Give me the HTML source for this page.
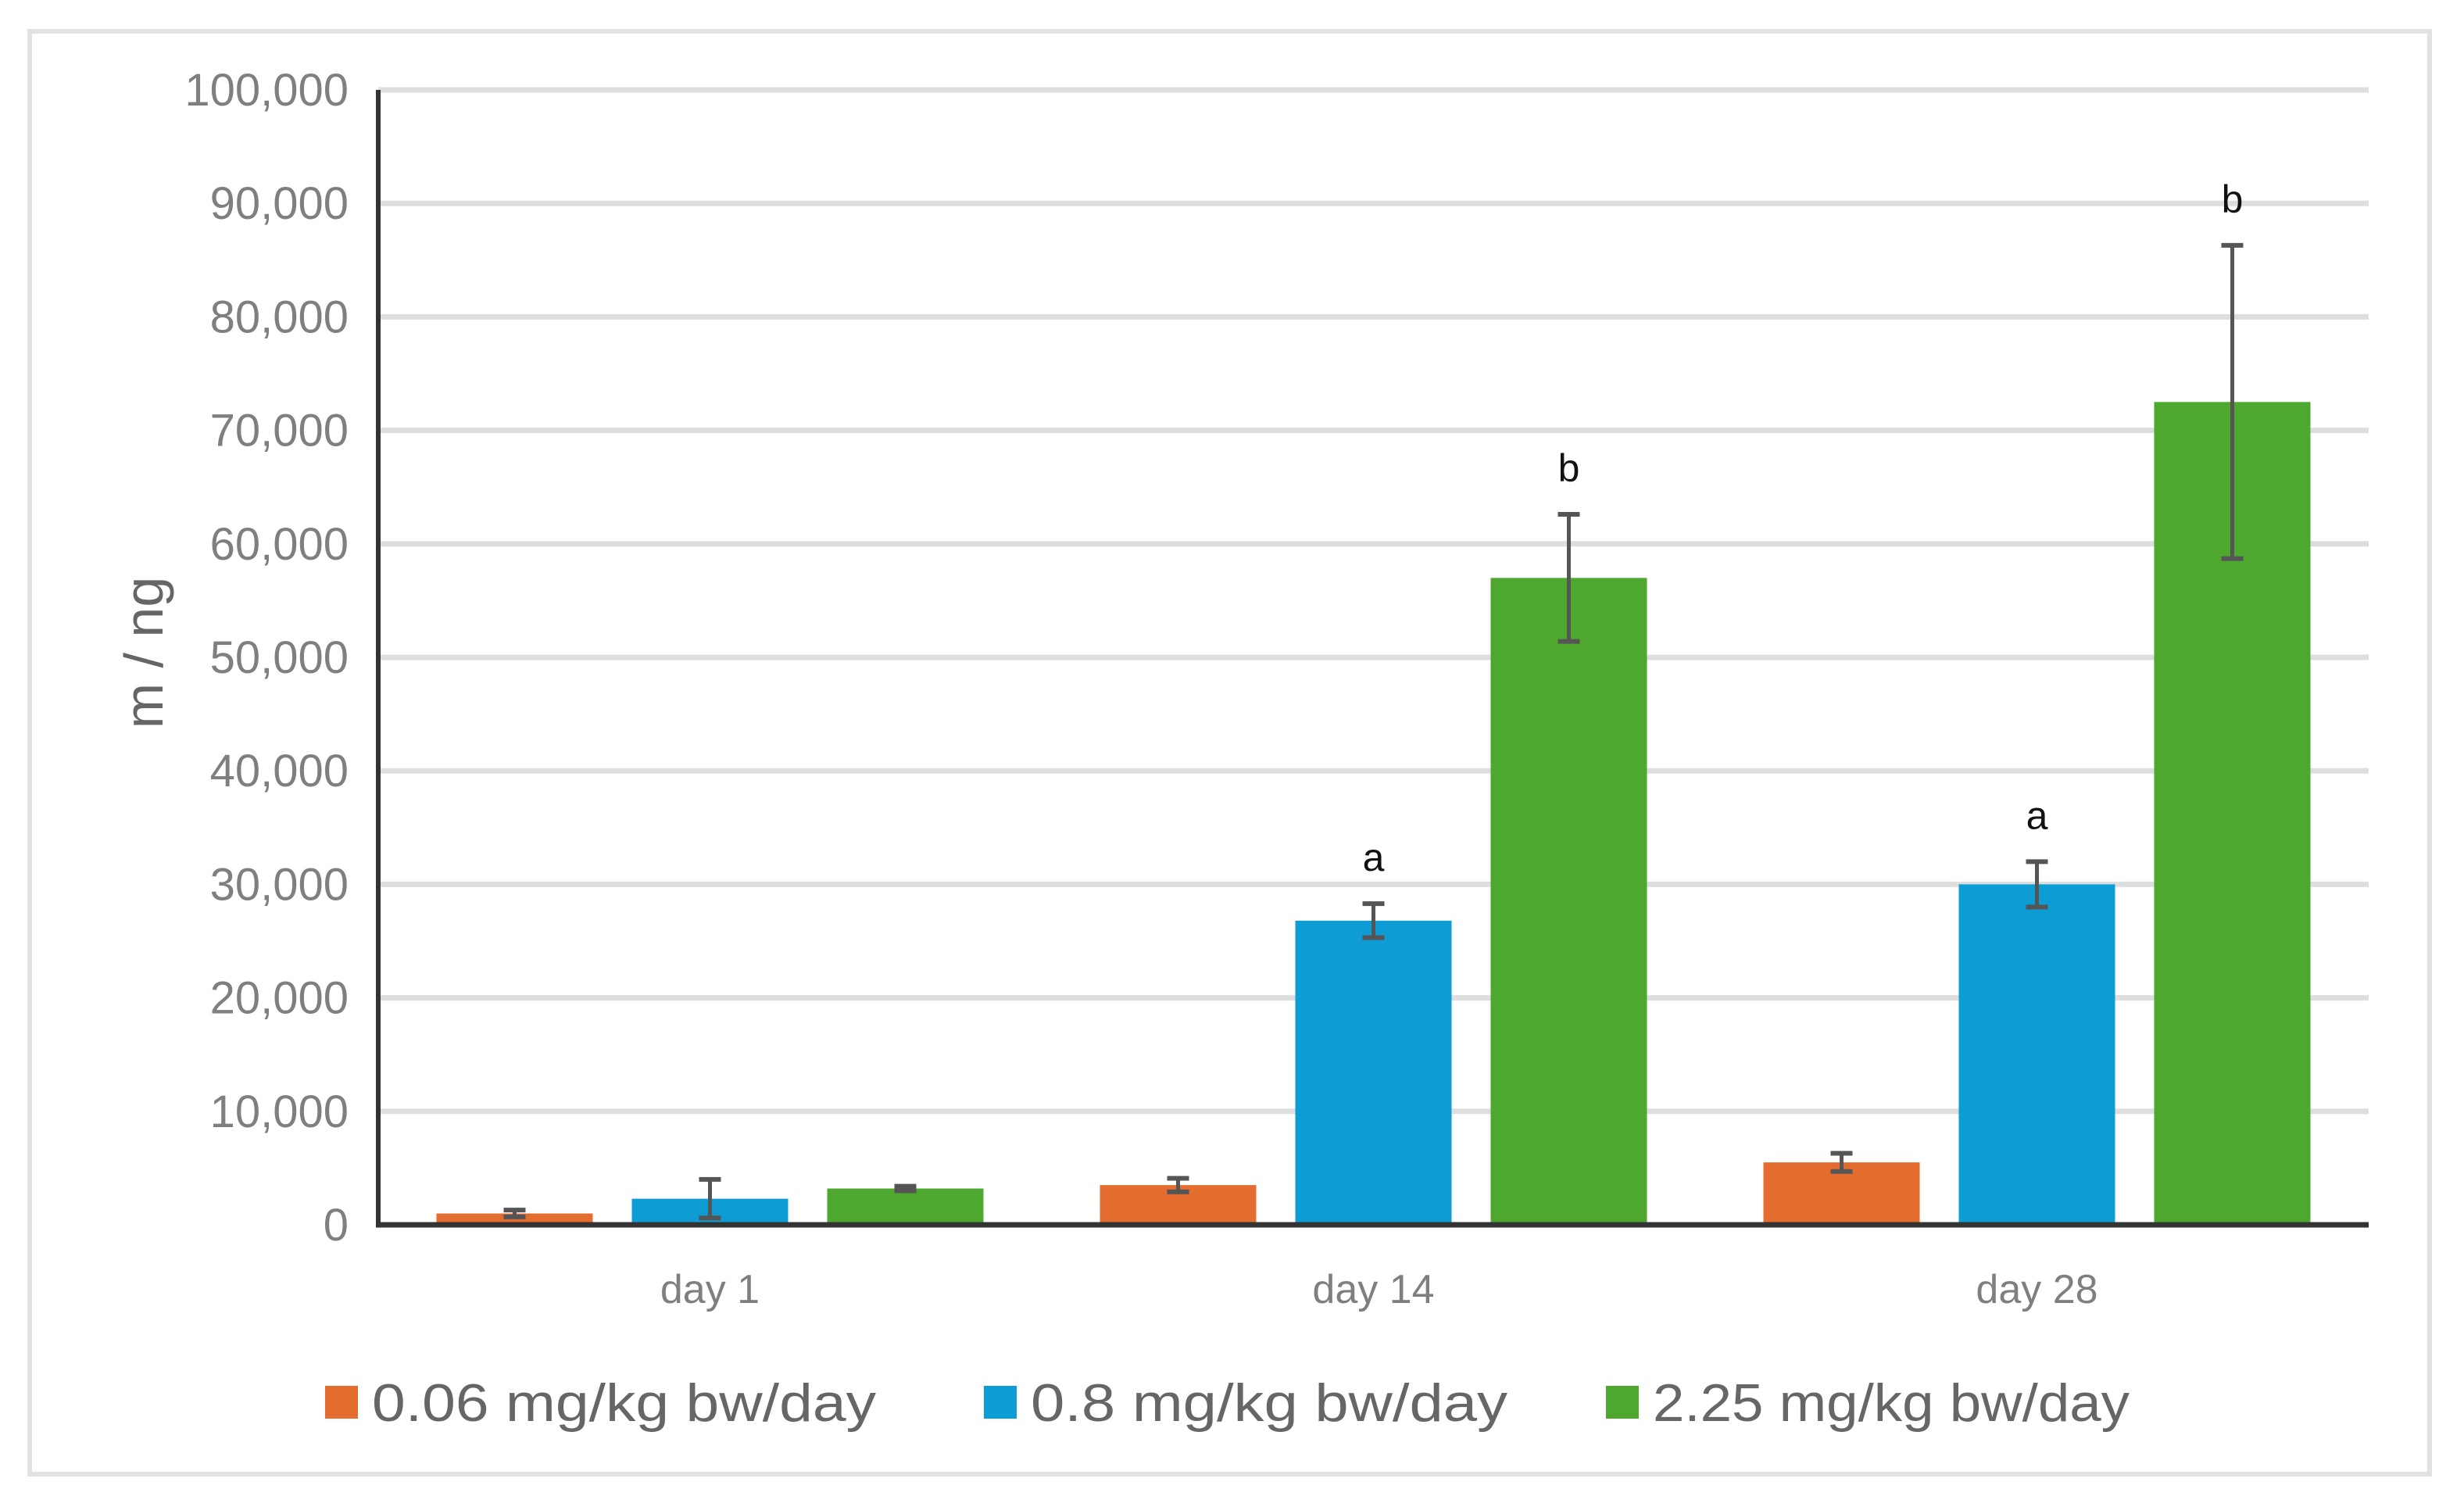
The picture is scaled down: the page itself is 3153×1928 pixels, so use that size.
<!DOCTYPE html>
<html><head><meta charset="utf-8"><style>
html,body{margin:0;padding:0;background:#fff;}
svg{display:block;font-family:"Liberation Sans",sans-serif;}
</style></head><body>
<svg id="chart" width="3153" height="1928" viewBox="0 0 3153 1928" xmlns="http://www.w3.org/2000/svg">
<rect x="38" y="40" width="3071" height="1846" fill="#fff" stroke="#e2e2e2" stroke-width="6"/>
<g id="grid"></g>
<g id="bars"></g>
<g id="axes"></g>
<text transform="translate(208,835) rotate(-90)" text-anchor="middle" font-size="70" fill="#666">m / ng</text>
<g id="legend"></g>
</svg>
<script>
const categories = ["day 1", "day 14", "day 28"];
const seriesNames = ["0.06 mg/kg bw/day", "0.8 mg/kg bw/day", "2.25 mg/kg bw/day"];
const seriesLow = [1000, 3500, 5500];
const seriesLowErr = [300, 600, 800];
const seriesMid = [2300, 26800, 30000];
const seriesMidErr = [1700, 1500, 2000];
const seriesHigh = [3200, 57000, 72500];
const seriesHighErr = [200, 5600, 13800];
const letterMid = ["", "a", "a"];
const letterHigh = ["", "b", "b"];
const yTicks = [0, 10000, 20000, 30000, 40000, 50000, 60000, 70000, 80000, 90000, 100000];
const yTickLabels = ["0", "10,000", "20,000", "30,000", "40,000", "50,000", "60,000", "70,000", "80,000", "90,000", "100,000"];

const NS = "http://www.w3.org/2000/svg";
const colors = ["#E46C2E", "#0E9CD5", "#4EA72E"];
const X0 = 484, X1 = 3031, Y0 = 1567, YT = 115, YMAX = 100000;
const y = v => Y0 - (v / YMAX) * (Y0 - YT);
const catW = (X1 - X0) / categories.length;
const xc = i => X0 + catW * (i + 0.5);
const barW = 200, pitch = 250;
function mk(tag, attrs, parent, text) {
  const e = document.createElementNS(NS, tag);
  for (const k in attrs) e.setAttribute(k, attrs[k]);
  if (text !== undefined) e.textContent = text;
  parent.appendChild(e);
  return e;
}
const grid = document.getElementById('grid');
yTicks.forEach((t, i) => {
  if (t > 0) {
    const l = mk('line', {x1: X0, x2: X1, y1: y(t), y2: y(t), stroke: '#dedede', 'stroke-width': 7}, grid);
    
    
  }
  const tx = mk('text', {x: 446, y: y(t) + 20, 'text-anchor': 'end', 'font-size': 58, fill: '#7f7f7f'}, grid, yTickLabels[i]);
  
  
});
const bars = document.getElementById('bars');
const series = [[seriesLow, seriesLowErr], [seriesMid, seriesMidErr], [seriesHigh, seriesHighErr]];
const letters = [null, letterMid, letterHigh];
categories.forEach((c, i) => {
  series.forEach((s, j) => {
    const v = s[0][i], e = s[1][i];
    const cx = xc(i) + (j - 1) * pitch;
    const r = mk('rect', {x: cx - barW / 2, y: y(v), width: barW, height: Y0 - y(v), fill: colors[j]}, bars);
    
    
    const eg = mk('g', {stroke: '#555', 'stroke-width': 5}, bars);
    
    
    mk('line', {x1: cx, x2: cx, y1: y(v + e), y2: y(v - e)}, eg);
    mk('line', {x1: cx - 14, x2: cx + 14, y1: y(v + e), y2: y(v + e), 'stroke-width': 6}, eg);
    mk('line', {x1: cx - 14, x2: cx + 14, y1: y(v - e), y2: y(v - e), 'stroke-width': 6}, eg);
    if (letters[j] && letters[j][i]) {
      const t = mk('text', {x: cx, y: y(v + e) - 42, 'text-anchor': 'middle', 'font-size': 50, fill: '#111'}, bars, letters[j][i]);
      
      
    }
  });
  const xl = mk('text', {x: xc(i), y: 1667, 'text-anchor': 'middle', 'font-size': 52, fill: '#7f7f7f'}, bars, c);
  
  
});
const axes = document.getElementById('axes');
const ya = mk('line', {x1: X0, x2: X0, y1: YT, y2: Y0 + 3, stroke: '#333', 'stroke-width': 6}, axes);


const xa = mk('line', {x1: X0 - 3, x2: X1, y1: Y0, y2: Y0, stroke: '#333', 'stroke-width': 7}, axes);


const legend = document.getElementById('legend');
const legX = [416, 1259, 2055];
seriesNames.forEach((n, j) => {
  const g = mk('g', {}, legend);
  
  
  mk('rect', {x: legX[j], y: 1773, width: 42, height: 42, fill: colors[j]}, g);
  mk('text', {x: legX[j] + 60, y: 1818, 'font-size': 68, fill: '#666', textLength: j === 0 ? 645 : 610, lengthAdjust: 'spacingAndGlyphs'}, g, n);
});
</script>
</body></html>
